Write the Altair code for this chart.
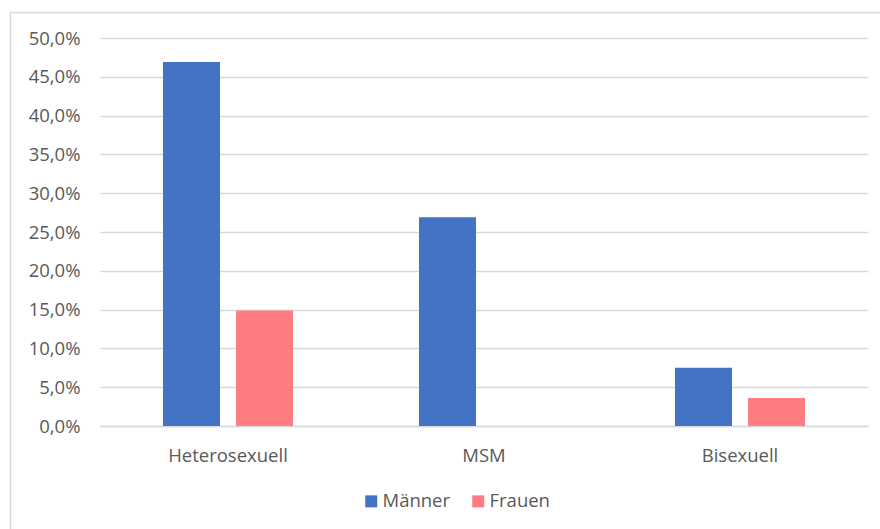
import altair as alt
import pandas as pd

categories = ["Heterosexuell", "MSM", "Bisexuell"]
series = ["Männer", "Frauen"]
maenner = [0.469, 0.269, 0.075]
frauen = [0.149, 0.0, 0.036]
colors = ["#4472C4", "#FF7C80"]

rows = []
for c, m, f in zip(categories, maenner, frauen):
    rows.append({"Kategorie": c, "Geschlecht": "Männer", "Wert": m})
    rows.append({"Kategorie": c, "Geschlecht": "Frauen", "Wert": f})
df = pd.DataFrame(rows)

FONT = "Open Sans"
FS = 18.5
LABEL = "#595959"
GRID = "#D9D9D9"

bars = alt.Chart(df).mark_bar(strokeWidth=0).encode(
    x=alt.X("Kategorie:N", sort=categories,
            scale=alt.Scale(paddingInner=0, paddingOuter=0),
            axis=alt.Axis(title=None, labelAngle=0, ticks=False, domain=True,
                          domainColor=GRID, domainWidth=1.5, labelPadding=20,
                          labelFont=FONT, labelFontSize=FS, labelColor=LABEL)),
    xOffset=alt.XOffset("Geschlecht:N", sort=series,
                        scale=alt.Scale(paddingInner=0.219, paddingOuter=0.863)),
    y=alt.Y("Wert:Q",
            scale=alt.Scale(domain=[0, 0.5], nice=False),
            axis=alt.Axis(title=None, values=[i * 0.05 for i in range(11)],
                          labelExpr="replace(format(datum.value, '.1%'), '.', ',')",
                          ticks=False, domain=False, grid=True, gridColor=GRID,
                          gridWidth=1.5, labelPadding=20, labelFont=FONT,
                          labelFontSize=FS, labelColor=LABEL)),
    color=alt.Color("Geschlecht:N", sort=series,
                    scale=alt.Scale(domain=series, range=colors),
                    legend=alt.Legend(title=None, orient="none", direction="horizontal",
                                      legendX=262, legendY=454, symbolType="square",
                                      symbolSize=144, symbolStrokeWidth=0,
                                      labelFont=FONT, labelFontSize=FS,
                                      labelColor=LABEL, labelOffset=2,
                                      columnPadding=18)),
)

border = alt.Chart(alt.Data(values=[{}])).mark_rect(
    fill=None, stroke="#D9D9D9", strokeWidth=1.5
).encode(
    x=alt.value(-89.5), x2=alt.value(800),
    y=alt.value(-25.5), y2=alt.value(520),
)

chart = alt.layer(border, bars).properties(
    width=768, height=388,
    padding={"left": 100, "right": 12, "top": 38, "bottom": 103},
    autosize=alt.AutoSizeParams(type="none"),
    background="white",
).configure_view(stroke=None)

chart.save("out.html", embed_options={"renderer": "svg", "actions": False})
